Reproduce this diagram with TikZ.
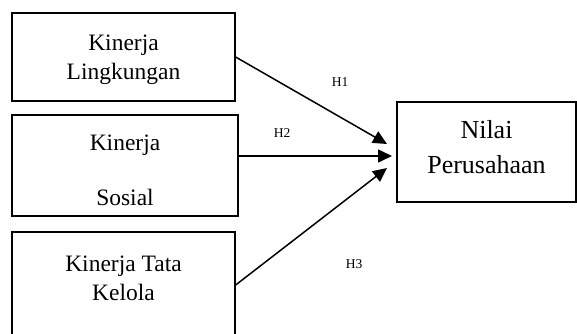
\documentclass[tikz,border=0pt]{standalone}
\usepackage{fontspec}
\setmainfont{Liberation Serif}
\usetikzlibrary{arrows.meta}

\begin{document}
\begin{tikzpicture}[
        x=1pt, y=-1pt,
        box/.style={draw, rectangle, line width=1.3pt, inner sep=0pt},
        var/.style={font=\fontsize{23.5}{29}\selectfont, align=center},
        path/.style={line width=1.5pt, -{Triangle[length=14pt, width=13pt]}},
        hyp/.style={font=\fontsize{13.5}{15}\selectfont}
    ]

        \useasboundingbox (0,0) rectangle (577,333);
        \clip (0,0) rectangle (577,333);

        \node[box, minimum width=223pt, minimum height=88pt] (lingk) at (123.5,57) {};
        \node[box, minimum width=226pt, minimum height=101pt] (sosial) at (125,165.5) {};
        \node[box, minimum width=223pt, minimum height=120pt] (tata) at (123.5,292) {};
        \node[box, minimum width=179pt, minimum height=100pt] (nilai) at (486.5,152) {};

        \node[var] (lingk-text) at (123.5,60) {Kinerja\\Lingkungan};
        \node[var] (sosial-text) at (125,170.5) {Kinerja\\[26pt]Sosial};
        \node[var] (tata-text) at (123.5,278) {Kinerja Tata\\Kelola};
        \node[font=\fontsize{26}{35}\selectfont, align=center] (nilai-text) at (486.5,147.5) {Nilai\\Perusahaan};

        \coordinate (t1) at (387,144);
        \coordinate (t2) at (392,156);
        \coordinate (t3) at (387,168);

        \draw[path] (lingk.east) -- (t1);
        \draw[path] (sosial.east |- t2) -- (t2);
        \draw[path] ([yshift=-5pt]tata.east |- 0,280) -- (t3);

        \node[hyp] (h1) at (340,82) {H1};
        \node[hyp] (h2) at (282,133) {H2};
        \node[hyp] (h3) at (354,264) {H3};
    \end{tikzpicture}
\end{document}
